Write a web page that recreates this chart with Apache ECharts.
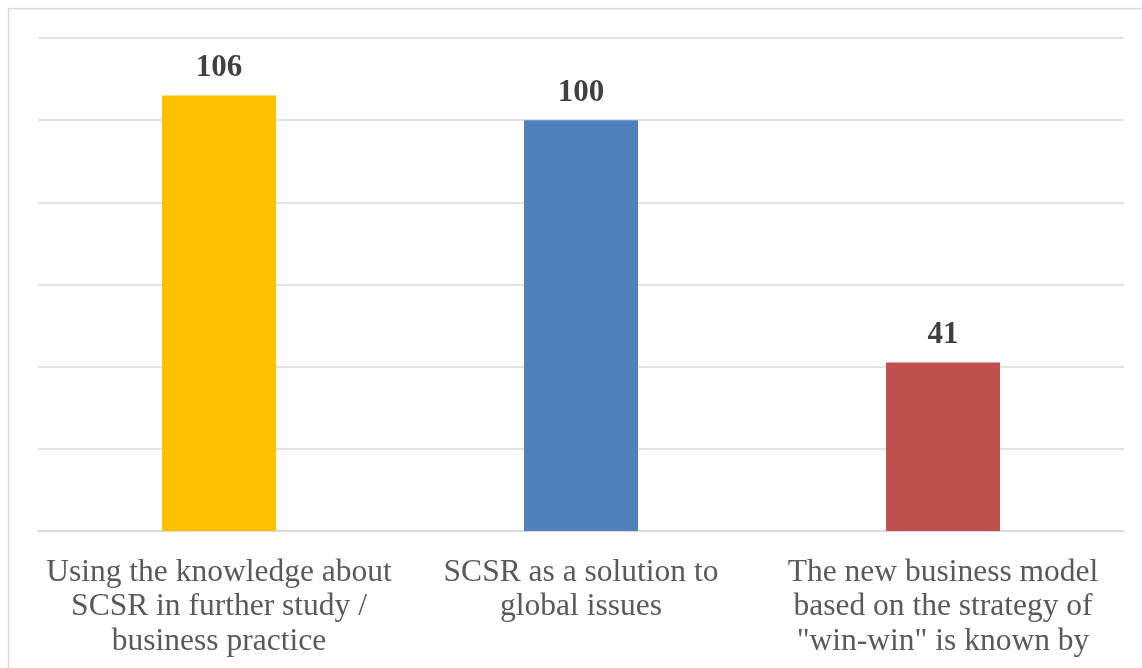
<!DOCTYPE html>
<html>
<head>
<meta charset="utf-8">
<script src="https://cdn.jsdelivr.net/npm/echarts@6/dist/echarts.min.js"></script>
<style>
html,body{margin:0;padding:0;background:#fff;}
#chart{width:1142px;height:668px;}
</style>
</head>
<body>
<div id="chart"></div>
<script>
const categories = [
  "Using the knowledge about\nSCSR in further study /\nbusiness practice",
  "SCSR as a solution to\nglobal issues",
  "The new business model\nbased on the strategy of\n\"win-win\" is known by"
];
const values = [106, 100, 41];
const barColors = ["#FFC000", "#4F81BD", "#C0504D"];

const chart = echarts.init(document.getElementById('chart'), null, {renderer: 'canvas'});
chart.setOption({
  backgroundColor: '#ffffff',
  animation: false,
  graphic: [{
    type: 'rect',
    shape: {x: 8.5, y: 8.5, width: 1200, height: 700},
    style: {fill: 'none', stroke: '#d9d9d9', lineWidth: 1.5},
    z: -1
  }],
  grid: {left: 38, right: 18, top: 38, bottom: 137, containLabel: false},
  xAxis: {
    type: 'category',
    data: categories,
    axisLine: {show: true, lineStyle: {color: '#d9d9d9', width: 1.5}},
    axisTick: {show: false},
    axisLabel: {
      interval: 0,
      margin: 24,
      fontFamily: 'Liberation Serif',
      fontSize: 31.5,
      lineHeight: 34.5,
      color: '#595959',
      align: 'center'
    }
  },
  yAxis: {
    type: 'value',
    min: 0, max: 120, interval: 20,
    axisLabel: {show: false},
    axisLine: {show: false},
    axisTick: {show: false},
    splitLine: {lineStyle: {color: '#d9d9d9', width: 1.5}}
  },
  series: [{
    type: 'bar',
    data: values.map((v, i) => ({value: v, itemStyle: {color: barColors[i]}})),
    barWidth: '31.5%',
    label: {
      show: true,
      position: 'top',
      distance: 12,
      fontFamily: 'Liberation Serif',
      fontWeight: 'bold',
      fontSize: 31,
      color: '#404040'
    }
  }]
});
</script>
</body>
</html>
